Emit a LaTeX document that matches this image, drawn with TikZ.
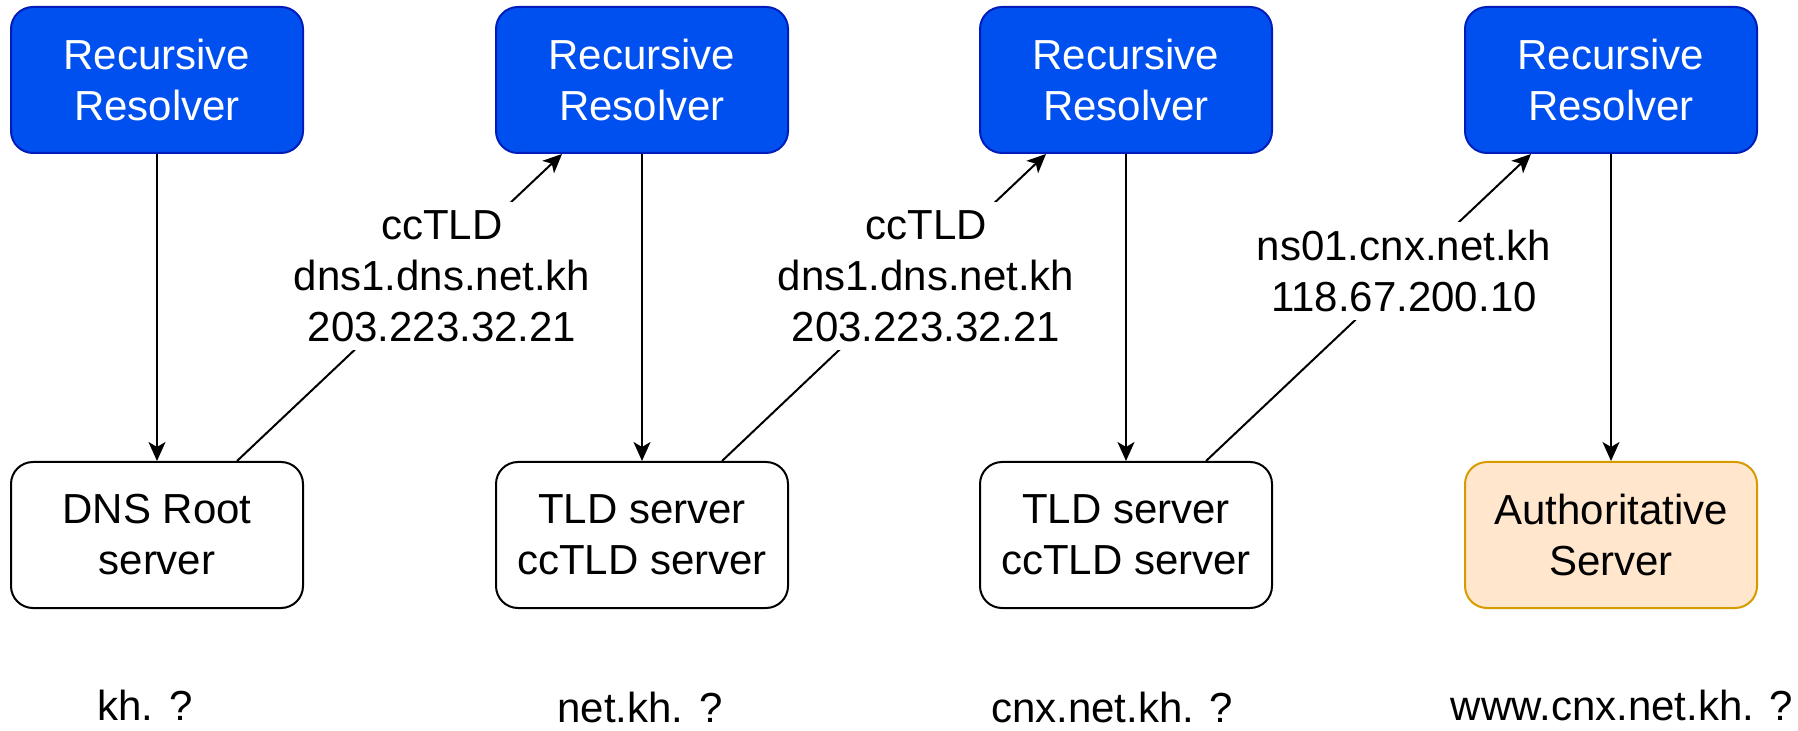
\documentclass[tikz,border=0pt]{standalone}
\usepackage{fontspec}
\setmainfont{Liberation Sans}
\usetikzlibrary{arrows.meta}
\definecolor{rblue}{HTML}{0050EF}
\definecolor{rbluedark}{HTML}{001DBC}
\definecolor{aufill}{HTML}{FFE6CC}
\definecolor{audraw}{HTML}{D79B00}
\begin{document}
\begin{tikzpicture}[x=0.5pt,y=-0.5pt,
  every node/.style={font=\fontsize{21}{25.5}\selectfont},
  box/.style={rounded corners=11pt, minimum width=146pt, minimum height=73pt, align=center, line width=1pt, inner sep=0pt},
  resolver/.style={box, fill=rblue, draw=rbluedark, text=white},
  server/.style={box, fill=white, draw=black},
  auth/.style={box, fill=aufill, draw=audraw},
  conn/.style={line width=1pt, -{Stealth[length=9.5pt,width=8.5pt,inset=2.5pt]}},
  lbl/.style={fill=white, align=center, inner sep=4pt},
  qlbl/.style={anchor=base, inner sep=0pt}
]
\useasboundingbox (0,0) rectangle (1798,731);

\node[resolver] (r1) at (157,80) {Recursive\\Resolver};
\node[resolver] (r2) at (642,80) {Recursive\\Resolver};
\node[resolver] (r3) at (1126,80) {Recursive\\Resolver};
\node[resolver] (r4) at (1611,80) {Recursive\\Resolver};

\node[server] (s1) at (157,535) {DNS Root\\server};
\node[server] (s2) at (642,535) {TLD server\\ccTLD server};
\node[server] (s3) at (1126,535) {TLD server\\ccTLD server};
\node[auth] (s4) at (1611,535) {Authoritative\\Server};

\draw[conn] (r1) -- (s1);
\draw[conn] (r2) -- (s2);
\draw[conn] (r3) -- (s3);
\draw[conn] (r4) -- (s4);

\coordinate (a1) at ([xshift=40pt]s1.north);
\coordinate (b1) at ([xshift=-40pt]r2.south);
\coordinate (a2) at ([xshift=40pt]s2.north);
\coordinate (b2) at ([xshift=-40pt]r3.south);
\coordinate (a3) at ([xshift=40pt]s3.north);
\coordinate (b3) at ([xshift=-40pt]r4.south);

\draw[conn] (a1) -- (b1);
\draw[conn] (a2) -- (b2);
\draw[conn] (a3) -- (b3);

\node[lbl] (l1) at (442,276) {ccTLD\\dns1.dns.net.kh\\203.223.32.21};
\node[lbl] (l2) at (926,276) {ccTLD\\dns1.dns.net.kh\\203.223.32.21};
\node[lbl] (l3) at (1404,271) {ns01.cnx.net.kh\\118.67.200.10};

\node[qlbl] (q1) at (145,720) {kh. ?};
\node[qlbl] (q2) at (640,722) {net.kh. ?};
\node[qlbl] (q3) at (1112,722) {cnx.net.kh. ?};
\node[qlbl] (q4) at (1622,720) {www.cnx.net.kh. ?};
\end{tikzpicture}
\end{document}
